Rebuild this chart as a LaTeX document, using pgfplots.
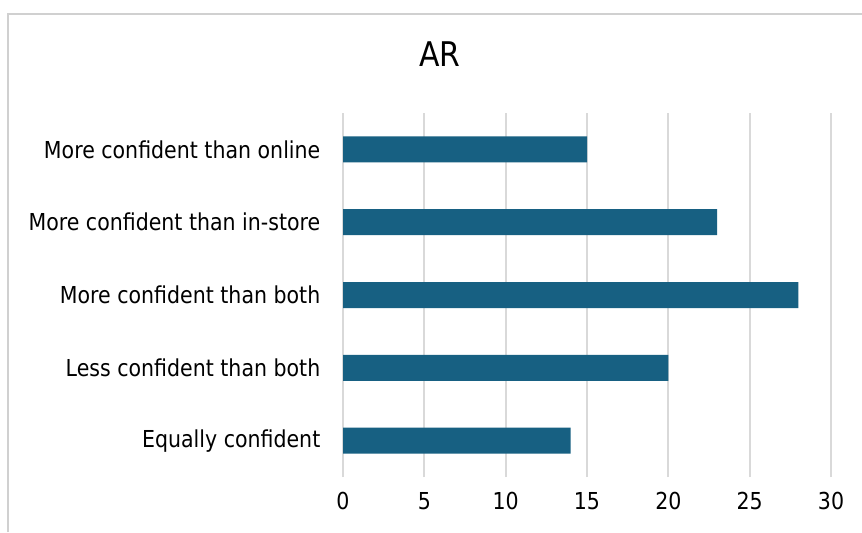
\documentclass[border=0pt]{standalone}
\usepackage{fontspec}
\setmainfont{DejaVu Sans}[FakeStretch=0.88]
\usepackage{pgfplots}
\pgfplotsset{compat=1.18}
\definecolor{barcol}{HTML}{176082}
\definecolor{gridcol}{HTML}{D9D9D9}
\definecolor{framecol}{HTML}{D0D0D0}
\begin{document}
\begin{tikzpicture}[x=1pt,y=1pt]
\useasboundingbox[fill=white] (0,0) rectangle (646.5,399);
\draw[framecol, line width=1.5pt] (6,0) -- (6,388.5) -- (646.5,388.5);
\node[font=\fontsize{25.5}{30}\selectfont, anchor=base] at (330,349) {AR};
\begin{axis}[
  at={(257.25pt,41.25pt)}, anchor=south west,
  width=366pt, height=273pt, scale only axis,
  xmin=0, xmax=30, ymin=-0.5, ymax=4.5,
  xtick={0,5,...,30},
  ytick={0,1,2,3,4},
  yticklabels={Equally confident, Less confident than both, More confident than both, More confident than in-store, More confident than online},
  axis line style={draw=none},
  major tick length=0pt,
  xmajorgrids, grid style={gridcol, line width=1.5pt},
  /pgf/number format/assume math mode=true,
  tick label style={font=\fontsize{17.5}{21}\selectfont},
  xticklabel style={yshift=-8pt},
  yticklabel style={xshift=-13.5pt},
  xbar, bar width=19.5pt, bar shift=0pt,
]
\addplot[fill=barcol, draw=none] coordinates {(14,0) (20,1) (28,2) (23,3) (15,4)};
\end{axis}
\end{tikzpicture}
\end{document}
